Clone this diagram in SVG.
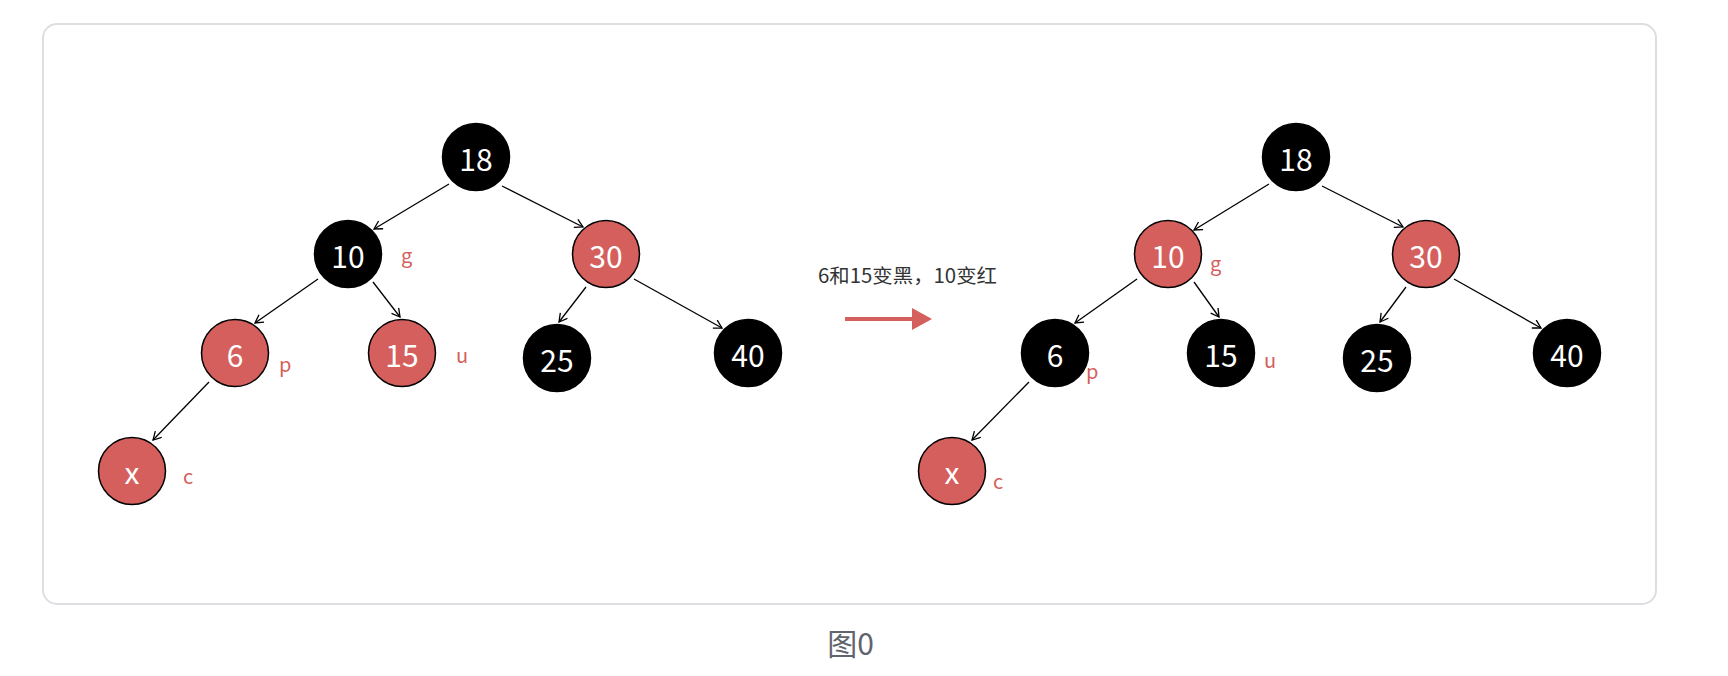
<svg xmlns="http://www.w3.org/2000/svg" width="1728" height="676" viewBox="0 0 1728 676">
<style>
.blk{fill:#000;stroke:#000;stroke-width:1.5}
.red{fill:#d45f5d;stroke:#000;stroke-width:1.5}
.nt{font-family:"Noto Sans CJK SC","Noto Sans",sans-serif;font-size:30px;fill:#fff;text-anchor:middle}
.lb{font-family:"Noto Sans CJK SC","Noto Sans",sans-serif;font-size:20px;fill:#d45f5d}
.edge{stroke:#000;stroke-width:1.3;fill:none;marker-end:url(#ah)}
</style>
<defs>
<marker id="ah" markerUnits="userSpaceOnUse" markerWidth="12" markerHeight="12" refX="9" refY="5" orient="auto">
<path d="M1,0.5 L9,5 L1,9.5" fill="none" stroke="#000" stroke-width="1.3"/>
</marker>
</defs>
<rect width="1728" height="676" fill="#fff"/>
<rect id="frame" x="43" y="24" width="1613" height="580" rx="14" fill="#fff" stroke="#dedee2" stroke-width="2"/>
<g id="connectors">
<line class="edge" x1="449" y1="184" x2="374" y2="229"/>
<line class="edge" x1="502" y1="186" x2="583" y2="227"/>
<line class="edge" x1="318" y1="279" x2="255" y2="323"/>
<line class="edge" x1="373" y1="282" x2="400" y2="317"/>
<line class="edge" x1="586" y1="287" x2="559" y2="322"/>
<line class="edge" x1="634" y1="279" x2="722" y2="328"/>
<line class="edge" x1="209" y1="382" x2="153" y2="440"/>
<line class="edge" x1="1269" y1="184" x2="1194" y2="230"/>
<line class="edge" x1="1322" y1="186" x2="1403" y2="227"/>
<line class="edge" x1="1137" y1="279" x2="1075" y2="323"/>
<line class="edge" x1="1194" y1="282" x2="1219" y2="317"/>
<line class="edge" x1="1406" y1="287" x2="1380" y2="322"/>
<line class="edge" x1="1454" y1="279" x2="1541" y2="328"/>
<line class="edge" x1="1029" y1="382" x2="972" y2="440"/>
</g>
<g id="L18"><circle class="blk" cx="476" cy="157" r="33.5"/><text class="nt" x="476" y="170.5">18</text></g>
<g id="L10"><circle class="blk" cx="348" cy="254" r="33.5"/><text class="nt" x="348" y="267.5">10</text><text class="lb" x="401" y="263">g</text></g>
<g id="L30"><circle class="red" cx="606" cy="254" r="33.5"/><text class="nt" x="606" y="267.5">30</text></g>
<g id="L6"><circle class="red" cx="235" cy="353" r="33.5"/><text class="nt" x="235" y="366.5">6</text><text class="lb" x="279" y="372">p</text></g>
<g id="L15"><circle class="red" cx="402" cy="353" r="33.5"/><text class="nt" x="402" y="366.5">15</text><text class="lb" x="456" y="363">u</text></g>
<g id="L25"><circle class="blk" cx="557" cy="358" r="33.5"/><text class="nt" x="557" y="371.5">25</text></g>
<g id="L40"><circle class="blk" cx="748" cy="353" r="33.5"/><text class="nt" x="748" y="366.5">40</text></g>
<g id="Lx"><circle class="red" cx="132" cy="471" r="33.5"/><text class="nt" x="132" y="484">x</text><text class="lb" x="183" y="483.5">c</text></g>
<g id="transition">
<text x="818" y="283" font-family="'Noto Sans CJK SC','Noto Sans',sans-serif" font-size="19.5" fill="#333" textLength="179" lengthAdjust="spacingAndGlyphs">6和15变黑，10变红</text>
<line x1="845" y1="319" x2="913" y2="319" stroke="#d45f5d" stroke-width="4"/>
<polygon points="912,308 932,319 912,330" fill="#d45f5d"/>
</g>
<g id="R18"><circle class="blk" cx="1296" cy="157" r="33.5"/><text class="nt" x="1296" y="170.5">18</text></g>
<g id="R10"><circle class="red" cx="1168" cy="254" r="33.5"/><text class="nt" x="1168" y="267.5">10</text><text class="lb" x="1210" y="270.5">g</text></g>
<g id="R30"><circle class="red" cx="1426" cy="254" r="33.5"/><text class="nt" x="1426" y="267.5">30</text></g>
<g id="R6"><circle class="blk" cx="1055" cy="353" r="33.5"/><text class="nt" x="1055" y="366.5">6</text><text class="lb" x="1086" y="379">p</text></g>
<g id="R15"><circle class="blk" cx="1221" cy="353" r="33.5"/><text class="nt" x="1221" y="366.5">15</text><text class="lb" x="1264" y="368">u</text></g>
<g id="R25"><circle class="blk" cx="1377" cy="358" r="33.5"/><text class="nt" x="1377" y="371.5">25</text></g>
<g id="R40"><circle class="blk" cx="1567" cy="353" r="33.5"/><text class="nt" x="1567" y="366.5">40</text></g>
<g id="Rx"><circle class="red" cx="952" cy="471" r="33.5"/><text class="nt" x="952" y="484">x</text><text class="lb" x="993" y="489">c</text></g>
<text id="caption" x="850.5" y="655" font-family="'Noto Sans CJK SC','Noto Sans',sans-serif" font-size="30" fill="#60646c" text-anchor="middle">图0</text>
</svg>
